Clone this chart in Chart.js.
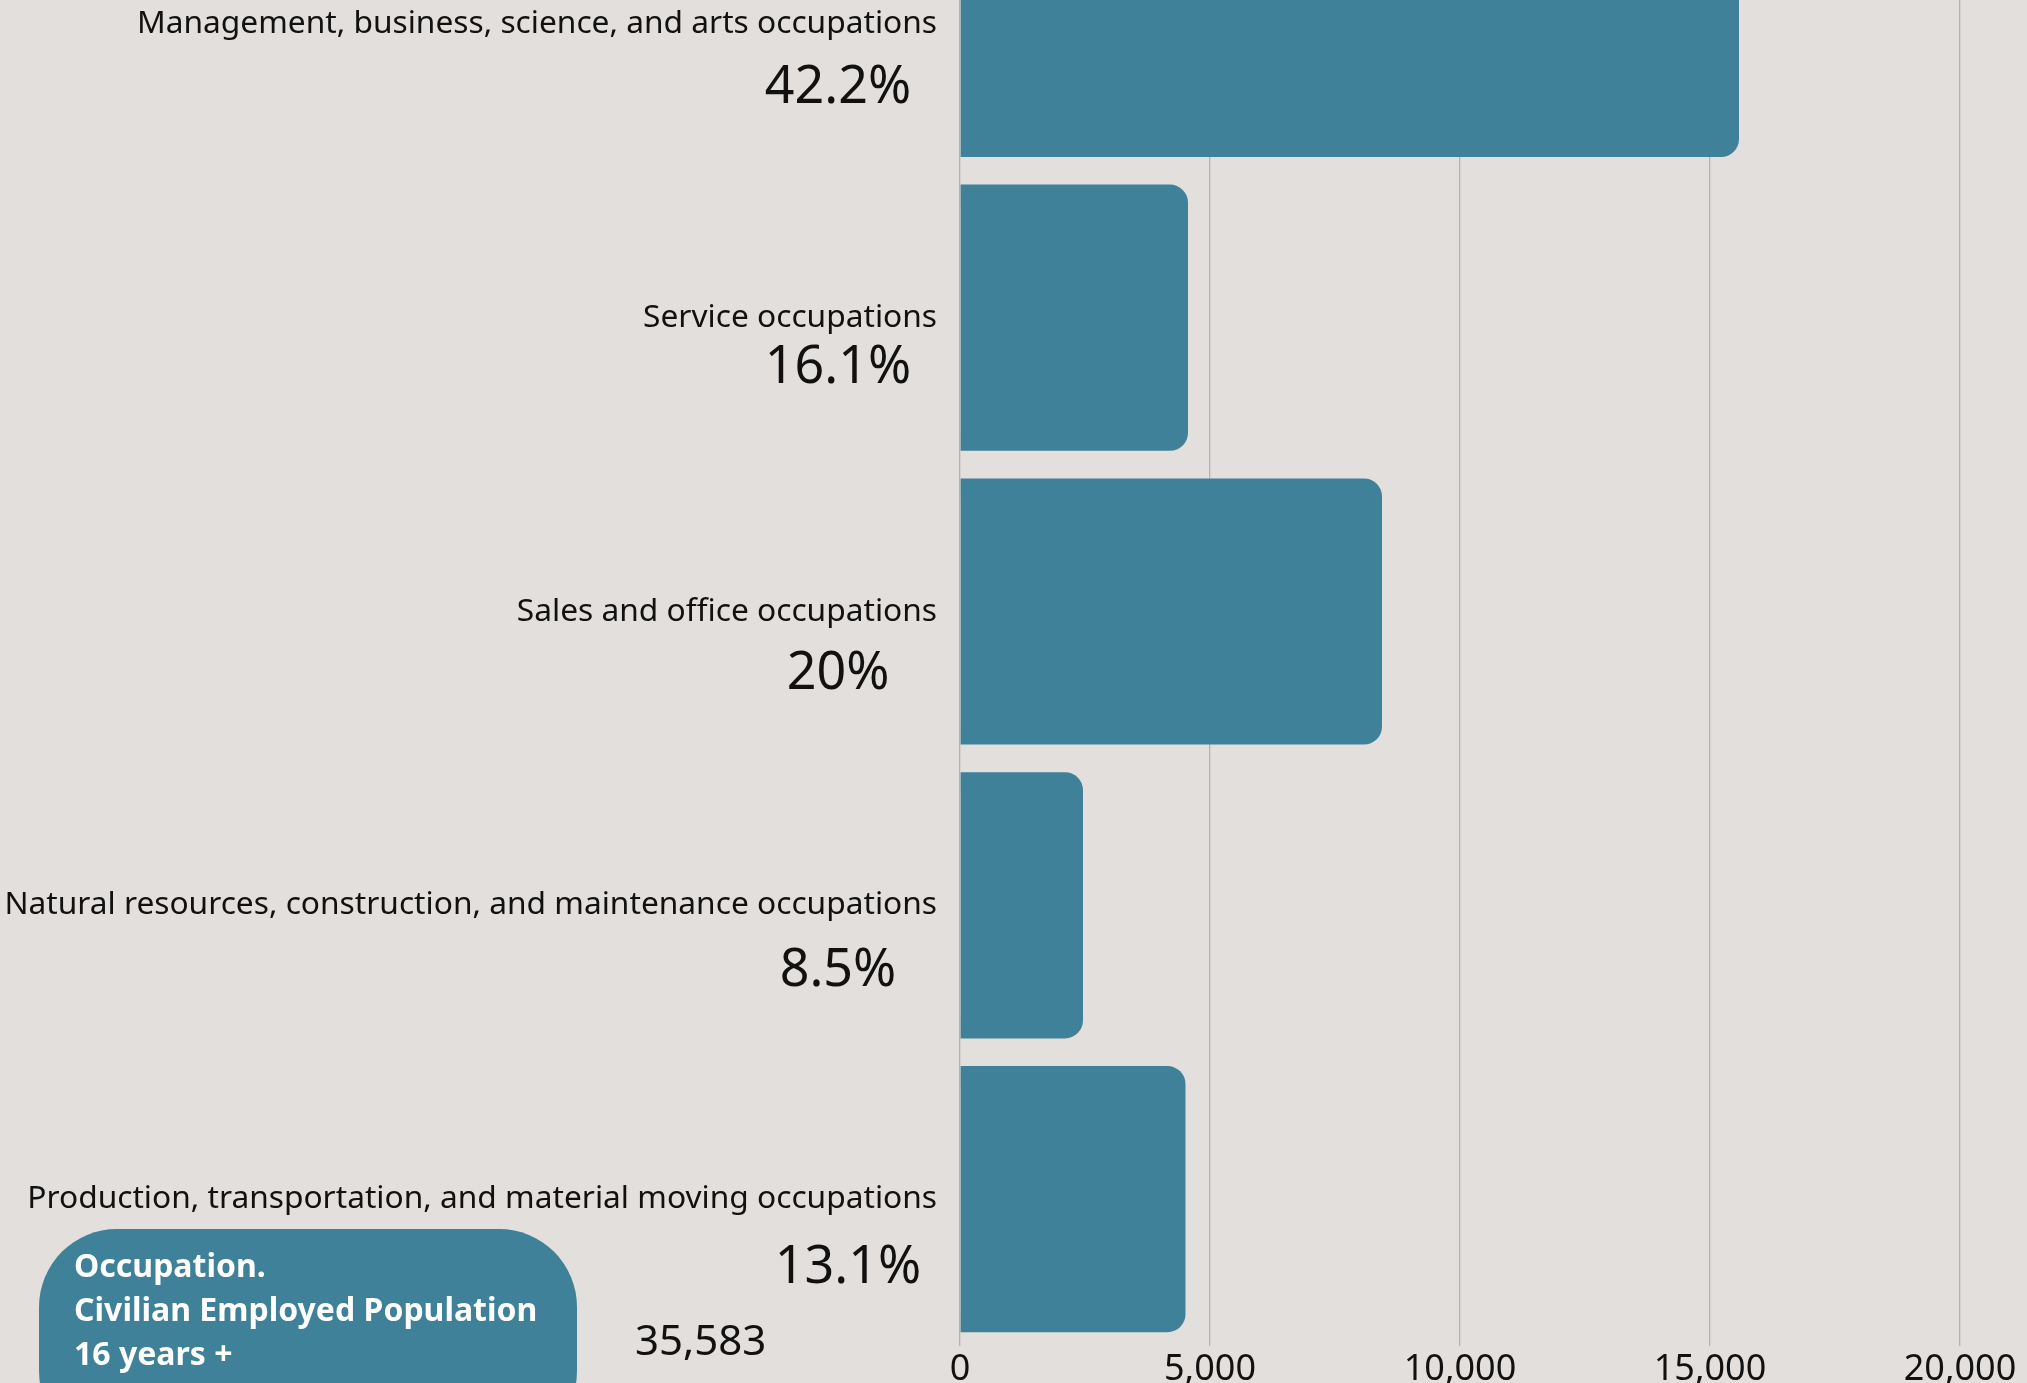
<!DOCTYPE html>
<html>
<head>
<meta charset="utf-8">
<script src="https://cdn.jsdelivr.net/npm/chart.js@4"></script>
<style>
  html, body { margin: 0; padding: 0; background: #e3dfdc; overflow: hidden; }
  body { width: 2027px; height: 1383px; position: relative; }
  #wrap { position: absolute; left: 0; top: -165px; width: 2027px; height: 1563px; }
  #titleBox {
    position: absolute; left: 39px; top: 1229px; width: 538px; height: 220px;
    background: #3e8199; border-radius: 78px;
  }
  #titleText {
    position: absolute; left: 74px; top: 1243px; color: #fff;
    font: bold 32px "Noto Sans", sans-serif; line-height: 44px;
  }
  #total {
    position: absolute; left: 635px; top: 1310px; color: #111;
    font: 42px "Noto Sans", sans-serif;
  }
</style>
</head>
<body>
<div id="wrap"><canvas id="grafico"></canvas></div>
<div id="titleBox"></div>
<div id="titleText"></div>
<div id="total"></div>
<script>
// ===== DADOS =====
const ocupacoes = [
  "Management, business, science, and arts occupations",
  "Service occupations",
  "Sales and office occupations",
  "Natural resources, construction, and maintenance occupations",
  "Production, transportation, and material moving occupations"
];
const valores = [15580, 4560, 8440, 2460, 4510];
const percentuais = ["42.2%", "16.1%", "20%", "8.5%", "13.1%"];
const totalPopulacao = 35583;
const tituloLinhas = ["Occupation.", "Civilian Employed Population", "16 years +"];

document.getElementById("titleText").innerHTML = tituloLinhas.join("<br>");
document.getElementById("total").textContent = totalPopulacao.toLocaleString("en-US");

// ===== PLUGIN: PERCENTUAIS ABAIXO DO NOME =====
const pluginPercentuais = {
  id: "percentuais",
  afterDraw(chart, args, opts) {
    const ctx = chart.ctx;
    const y = chart.scales.y;
    ctx.save();
    ctx.fillStyle = "#111";
    ctx.font = "52px 'Noto Sans', sans-serif";
    ctx.textAlign = "center";
    ctx.textBaseline = "middle";
    percentuais.forEach((p, i) => {
      ctx.fillText(p, opts.x[i], y.getPixelForValue(i) + opts.dy[i]);
    });
    ctx.restore();
  }
};

new Chart(document.getElementById("grafico").getContext("2d"), {
  type: "bar",
  data: {
    labels: ocupacoes,
    datasets: [{
      data: valores,
      backgroundColor: "#3e8199",
      borderRadius: 18,
      borderSkipped: "start",
      barPercentage: 0.906,
      categoryPercentage: 1
    }]
  },
  options: {
    indexAxis: "y",
    responsive: true,
    maintainAspectRatio: false,
    animation: false,
    layout: { padding: { top: 0, right: 67, bottom: 0, left: 0 } },
    plugins: {
      legend: { display: false },
      tooltip: { enabled: false },
      percentuais: { x: [838, 838, 838, 838, 848], dy: [64, 50, 63, 66, 69] }
    },
    scales: {
      x: {
        min: 0, max: 20000,
        border: { display: false },
        grid: { color: "#b5b2b0", lineWidth: 1.3, drawTicks: false },
        afterFit(scale) { scale.height = 52; },
        ticks: {
          stepSize: 5000, padding: 2, color: "#111",
          font: { family: "Noto Sans", size: 36 },
          callback: v => v.toLocaleString("en-US")
        }
      },
      y: {
        border: { display: false },
        grid: { display: false, drawTicks: false },
        afterFit(scale) { scale.width = 960; },
        ticks: {
          padding: 23, color: "#111",
          font: { family: "Noto Sans", size: 31.7 }
        }
      }
    }
  },
  plugins: [pluginPercentuais]
});
</script>
</body>
</html>
